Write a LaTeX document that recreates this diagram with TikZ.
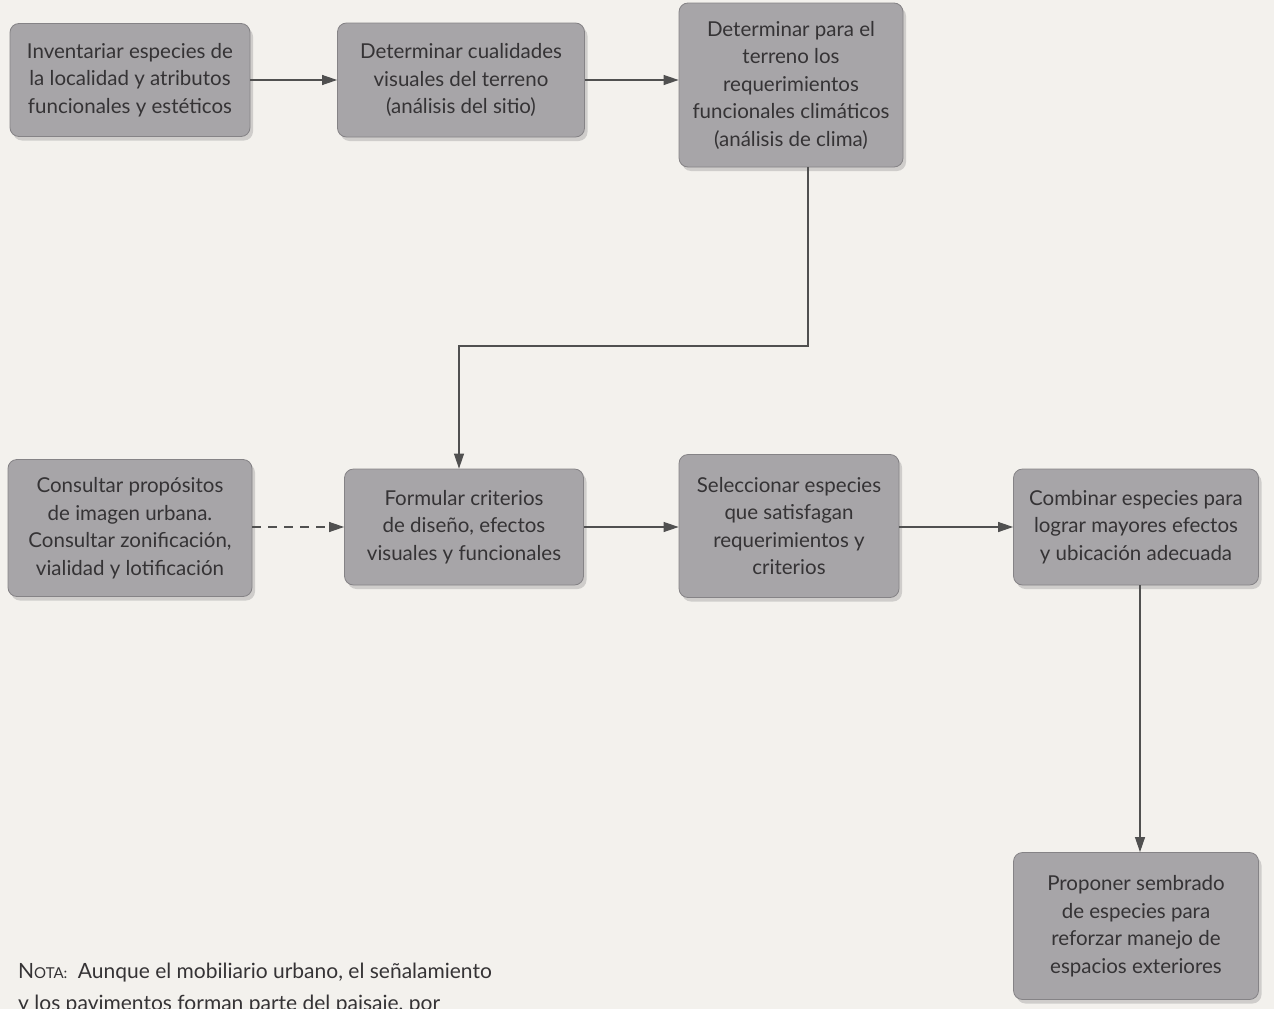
\documentclass[tikz,border=0pt]{standalone}
\usepackage{fontspec}
\setmainfont{Lato}
\usetikzlibrary{arrows.meta,shadows,calc}
\definecolor{paper}{HTML}{F3F1ED}
\definecolor{boxfill}{HTML}{A7A5A8}
\definecolor{boxline}{HTML}{858386}
\definecolor{ink}{HTML}{353335}
\definecolor{arrowc}{HTML}{505050}
\begin{document}
\begin{tikzpicture}[x=1pt,y=-1pt,
  stepbox/.style={draw=boxline, line width=0.8pt, fill=boxfill, rounded corners=9pt,
    align=center, text=ink, font=\fontsize{20.5}{27.5}\selectfont, inner sep=3pt,
    drop shadow={shadow xshift=3pt, shadow yshift=-4pt, fill=black!40, opacity=0.4}},
  flow/.style={draw=arrowc, line width=1.1pt, -{Triangle[length=15pt,width=10pt]}},
  noteline/.style={anchor=base west, text=ink, font=\fontsize{21}{26}\selectfont, inner sep=0pt}]
\useasboundingbox (0,0) rectangle (1274,1009);
\clip (0,0) rectangle (1274,1009);
\fill[paper] (0,0) rectangle (1274,1009);

% process boxes
\node[stepbox, minimum width=240pt, minimum height=113pt] (b1) at (130,80)
  {Inventariar especies de\\la localidad y atributos\\funcionales y estéticos};
\node[stepbox, minimum width=247pt, minimum height=114pt] (b2) at (461,80)
  {Determinar cualidades\\visuales del terreno\\(análisis del sitio)};
\node[stepbox, minimum width=224pt, minimum height=164pt] (b3) at (791,85)
  {Determinar para el\\terreno los\\requerimientos\\funcionales climáticos\\(análisis de clima)};
\node[stepbox, minimum width=244pt, minimum height=137pt] (b4) at (130,528)
  {Consultar propósitos\\de imagen urbana.\\Consultar zonificación,\\vialidad y lotificación};
\node[stepbox, minimum width=239pt, minimum height=116pt] (b5) at (464,527)
  {Formular criterios\\de diseño, efectos\\visuales y funcionales};
\node[stepbox, minimum width=220pt, minimum height=143pt] (b6) at (789,526)
  {Seleccionar especies\\que satisfagan\\requerimientos y\\criterios};
\node[stepbox, minimum width=245pt, minimum height=116pt] (b7) at (1136,527)
  {Combinar especies para\\lograr mayores efectos\\y ubicación adecuada};
\node[stepbox, minimum width=245pt, minimum height=147pt] (b8) at (1136,926)
  {Proponer sembrado\\de especies para\\reforzar manejo de\\espacios exteriores};

% connectors
\draw[flow] (b1) -- (b2);
\draw[flow] (b2.east) -- (b2.east -| b3.west);
\coordinate (e1) at (808,346);
\coordinate (e2) at (459,346);
\draw[flow] (b3.south -| e1) -- (e1) -- (e2) -- (e2 |- b5.north);
\draw[flow, dashed, dash pattern=on 9pt off 7pt] (b4.east |- b5) -- (b5.west);
\draw[flow] (b5.east) -- (b5.east -| b6.west);
\draw[flow] (b6.east |- b7) -- (b7.west);
\coordinate (e3) at (1140,600);
\draw[flow] (b7.south -| e3) -- (e3 |- b8.north);

% note at the foot
\node[noteline] (n1) at (18,978)
  {N{\fontsize{15}{15}\selectfont OTA:}\enspace Aunque el mobiliario urbano, el señalamiento};
\node[noteline] (n2) at (18,1010)
  {y los pavimentos forman parte del paisaje, por};
\end{tikzpicture}
\end{document}
